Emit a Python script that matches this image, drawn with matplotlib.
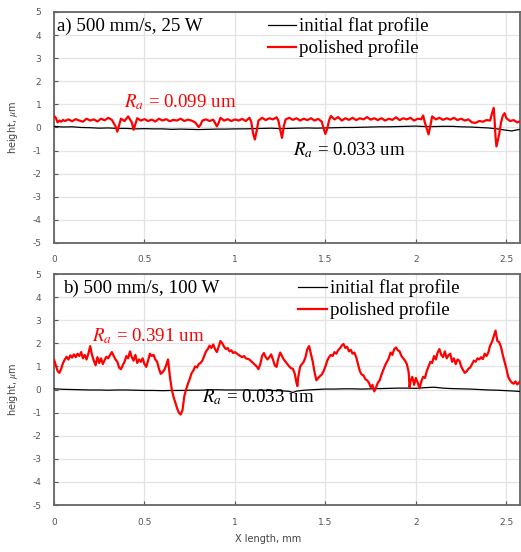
import numpy as np
import matplotlib
matplotlib.use("Agg")
import matplotlib.pyplot as plt

plt.rcParams['mathtext.fontset'] = 'stix'
plt.rcParams['axes.unicode_minus'] = False

# ---- panel a: 500 mm/s, 25 W ----
red_a = [
    (0.00, 0.50), (0.01, 0.42), (0.02, 0.22), (0.03, 0.30), (0.04, 0.25), (0.05, 0.33),
    (0.06, 0.28), (0.08, 0.35), (0.10, 0.27), (0.12, 0.36), (0.14, 0.30), (0.16, 0.25),
    (0.18, 0.38), (0.20, 0.30), (0.22, 0.35), (0.24, 0.26), (0.26, 0.38), (0.28, 0.31),
    (0.30, 0.42), (0.32, 0.33), (0.34, 0.05), (0.35, -0.18), (0.36, 0.10), (0.37, 0.38),
    (0.39, 0.28), (0.41, 0.48), (0.43, 0.22), (0.44, -0.10), (0.45, 0.15), (0.46, 0.40),
    (0.48, 0.30), (0.50, 0.36), (0.52, 0.28), (0.54, 0.34), (0.56, 0.26), (0.58, 0.38),
    (0.60, 0.30), (0.62, 0.36), (0.64, 0.27), (0.66, 0.33), (0.68, 0.30), (0.70, 0.38),
    (0.72, 0.28), (0.74, 0.34), (0.76, 0.30), (0.78, 0.22), (0.80, 0.02), (0.81, 0.12),
    (0.82, 0.30), (0.84, 0.35), (0.86, 0.28), (0.88, 0.34), (0.90, 0.05), (0.91, 0.20),
    (0.92, 0.42), (0.94, 0.30), (0.96, 0.36), (0.98, 0.28), (1.00, 0.35), (1.02, 0.30),
    (1.04, 0.37), (1.06, 0.28), (1.08, 0.42), (1.09, 0.25), (1.10, -0.25), (1.11, -0.52),
    (1.12, -0.15), (1.13, 0.30), (1.15, 0.42), (1.17, 0.32), (1.19, 0.40), (1.21, 0.35),
    (1.23, 0.44), (1.24, 0.30), (1.25, -0.10), (1.26, -0.45), (1.27, 0.05), (1.28, 0.35),
    (1.30, 0.42), (1.32, 0.33), (1.34, 0.40), (1.36, 0.30), (1.38, 0.38), (1.40, 0.32),
    (1.42, 0.40), (1.44, 0.30), (1.46, 0.37), (1.48, 0.25), (1.49, -0.05), (1.50, -0.28),
    (1.51, -0.05), (1.52, 0.30), (1.53, 0.50), (1.55, 0.35), (1.57, 0.45), (1.59, 0.30),
    (1.61, 0.40), (1.63, 0.33), (1.65, 0.42), (1.67, 0.32), (1.69, 0.40), (1.71, 0.35),
    (1.73, 0.45), (1.75, 0.34), (1.77, 0.40), (1.79, 0.32), (1.81, 0.40), (1.83, 0.30),
    (1.85, 0.38), (1.87, 0.33), (1.89, 0.44), (1.91, 0.32), (1.93, 0.40), (1.95, 0.35),
    (1.97, 0.42), (1.99, 0.30), (2.01, 0.38), (2.03, 0.36), (2.04, 0.52), (2.05, 0.20),
    (2.06, -0.05), (2.07, -0.30), (2.08, 0.10), (2.09, 0.48), (2.11, 0.35), (2.13, 0.42),
    (2.15, 0.33), (2.17, 0.40), (2.19, 0.34), (2.21, 0.42), (2.23, 0.32), (2.25, 0.38),
    (2.27, 0.30), (2.29, 0.35), (2.31, 0.22), (2.33, 0.20), (2.35, 0.28), (2.37, 0.25),
    (2.39, 0.32), (2.41, 0.30), (2.42, 0.60), (2.43, 0.85), (2.435, 0.30), (2.44, -0.40),
    (2.445, -0.82), (2.46, -0.30), (2.47, 0.20), (2.48, 0.50), (2.49, 0.62), (2.50, 0.40),
    (2.52, 0.28), (2.54, 0.32), (2.56, 0.22), (2.58, 0.28),
]
black_a = [
    (0.00, 0.05), (0.05, 0.02), (0.10, 0.03), (0.15, 0.00), (0.20, -0.01), (0.25, -0.03),
    (0.30, -0.02), (0.35, -0.04), (0.40, -0.04), (0.45, -0.06), (0.50, -0.05), (0.55, -0.06),
    (0.60, -0.06), (0.65, -0.08), (0.70, -0.07), (0.75, -0.08), (0.80, -0.09), (0.85, -0.08),
    (0.90, -0.07), (0.95, -0.07), (1.00, -0.06), (1.05, -0.06), (1.10, -0.05), (1.15, -0.04),
    (1.20, -0.03), (1.25, -0.05), (1.30, -0.04), (1.35, -0.03), (1.40, -0.02), (1.45, -0.03),
    (1.50, -0.02), (1.55, -0.01), (1.60, 0.00), (1.65, 0.00), (1.70, 0.01), (1.75, 0.02),
    (1.80, 0.03), (1.85, 0.03), (1.90, 0.04), (1.95, 0.05), (2.00, 0.06), (2.05, 0.04),
    (2.10, 0.04), (2.15, 0.05), (2.20, 0.05), (2.25, 0.03), (2.30, 0.02), (2.35, 0.00),
    (2.40, -0.02), (2.45, -0.06), (2.50, -0.12), (2.53, -0.15), (2.56, -0.10), (2.58, -0.08),
]

# ---- panel b: 500 mm/s, 100 W ----
red_b = [
    (0.00, 1.30), (0.01, 1.05), (0.02, 0.80), (0.03, 0.72), (0.04, 0.90), (0.05, 1.15),
    (0.06, 1.30), (0.07, 1.42), (0.08, 1.30), (0.09, 1.48), (0.10, 1.38), (0.11, 1.52),
    (0.12, 1.40), (0.13, 1.55), (0.14, 1.45), (0.15, 1.62), (0.16, 1.35), (0.17, 1.50),
    (0.18, 1.30), (0.19, 1.55), (0.20, 1.88), (0.21, 1.50), (0.22, 1.25), (0.23, 1.05),
    (0.24, 1.40), (0.25, 1.15), (0.26, 1.35), (0.27, 1.10), (0.28, 1.28), (0.29, 1.42),
    (0.30, 1.35), (0.31, 1.50), (0.32, 1.62), (0.33, 1.45), (0.34, 1.30), (0.35, 1.20),
    (0.36, 0.95), (0.37, 0.88), (0.38, 1.05), (0.39, 1.20), (0.40, 1.45), (0.41, 1.35),
    (0.42, 1.65), (0.43, 1.40), (0.44, 1.25), (0.45, 1.50), (0.46, 1.15), (0.47, 1.30),
    (0.48, 1.20), (0.49, 1.35), (0.50, 1.10), (0.51, 0.98), (0.52, 1.25), (0.53, 1.55),
    (0.54, 1.45), (0.55, 1.50), (0.56, 1.30), (0.57, 1.20), (0.58, 0.90), (0.59, 0.68),
    (0.60, 0.75), (0.61, 0.85), (0.62, 1.05), (0.63, 1.30), (0.64, 0.60), (0.65, 0.05),
    (0.66, -0.30), (0.67, -0.55), (0.68, -0.80), (0.69, -1.00), (0.70, -1.08), (0.71, -0.90),
    (0.72, -0.30), (0.73, 0.00), (0.74, 0.25), (0.75, 0.45), (0.76, 0.70), (0.77, 0.82),
    (0.78, 1.00), (0.79, 0.95), (0.80, 1.10), (0.81, 1.15), (0.82, 1.25), (0.83, 1.45),
    (0.84, 1.65), (0.85, 1.75), (0.86, 1.90), (0.87, 1.80), (0.88, 1.95), (0.89, 1.75),
    (0.90, 1.62), (0.91, 1.85), (0.92, 2.10), (0.93, 2.00), (0.94, 1.85), (0.95, 1.75),
    (0.96, 1.80), (0.97, 1.65), (0.98, 1.70), (0.99, 1.58), (1.00, 1.62), (1.02, 1.50),
    (1.04, 1.40), (1.05, 1.45), (1.06, 1.35), (1.08, 1.30), (1.10, 1.15), (1.12, 1.00),
    (1.13, 0.88), (1.14, 1.10), (1.15, 1.45), (1.16, 1.58), (1.17, 1.40), (1.18, 1.30),
    (1.19, 1.40), (1.20, 1.52), (1.21, 1.30), (1.22, 1.05), (1.23, 0.98), (1.24, 1.35),
    (1.25, 1.60), (1.26, 1.45), (1.27, 1.30), (1.28, 1.20), (1.29, 1.10), (1.30, 1.00),
    (1.31, 0.92), (1.32, 0.90), (1.33, 0.70), (1.34, 0.30), (1.345, 0.15), (1.35, 0.55),
    (1.36, 0.98), (1.37, 1.10), (1.38, 1.20), (1.39, 1.40), (1.40, 1.75), (1.41, 1.88),
    (1.42, 1.55), (1.43, 1.20), (1.44, 0.75), (1.45, 0.40), (1.46, 0.50), (1.47, 0.58),
    (1.48, 0.65), (1.49, 0.80), (1.50, 1.00), (1.51, 1.25), (1.52, 1.40), (1.53, 1.50),
    (1.54, 1.45), (1.55, 1.62), (1.56, 1.55), (1.57, 1.70), (1.58, 1.78), (1.59, 1.90),
    (1.60, 1.97), (1.61, 1.80), (1.62, 1.85), (1.63, 1.65), (1.64, 1.72), (1.65, 1.55),
    (1.66, 1.60), (1.67, 1.40), (1.68, 1.10), (1.69, 0.80), (1.70, 0.65), (1.71, 0.62),
    (1.72, 0.45), (1.73, 0.40), (1.74, 0.30), (1.75, 0.10), (1.76, 0.20), (1.77, -0.08),
    (1.78, 0.10), (1.79, 0.30), (1.80, 0.40), (1.81, 0.65), (1.82, 0.85), (1.83, 1.05),
    (1.84, 1.20), (1.85, 1.35), (1.86, 1.60), (1.87, 1.50), (1.88, 1.75), (1.89, 1.82),
    (1.90, 1.70), (1.91, 1.65), (1.92, 1.45), (1.93, 1.35), (1.94, 1.25), (1.95, 1.10),
    (1.96, 0.75), (1.965, 0.10), (1.97, 0.35), (1.98, 0.55), (1.99, 0.20), (2.00, 0.50),
    (2.01, 0.30), (2.02, 0.05), (2.03, 0.35), (2.04, 0.55), (2.05, 0.50), (2.06, 0.80),
    (2.07, 1.00), (2.08, 1.20), (2.09, 1.15), (2.10, 1.45), (2.11, 1.30), (2.12, 1.60),
    (2.13, 1.75), (2.14, 1.50), (2.15, 1.40), (2.16, 1.65), (2.17, 1.35), (2.18, 1.48),
    (2.19, 1.55), (2.20, 1.20), (2.21, 1.35), (2.22, 1.10), (2.23, 1.30), (2.24, 1.25),
    (2.25, 1.00), (2.26, 0.85), (2.27, 0.72), (2.28, 0.78), (2.29, 0.90), (2.30, 0.95),
    (2.31, 1.10), (2.32, 1.25), (2.33, 1.20), (2.34, 1.35), (2.35, 1.30), (2.36, 1.40),
    (2.37, 1.32), (2.38, 1.55), (2.39, 1.45), (2.40, 1.60), (2.41, 1.90), (2.42, 2.05),
    (2.43, 2.30), (2.44, 2.55), (2.45, 2.10), (2.46, 2.05), (2.47, 1.85), (2.48, 1.50),
    (2.49, 1.20), (2.50, 0.90), (2.51, 0.55), (2.52, 0.40), (2.53, 0.30), (2.54, 0.25),
    (2.55, 0.35), (2.56, 0.22), (2.57, 0.30), (2.58, 0.40),
]
black_b = [
    (0.00, 0.03), (0.05, 0.01), (0.10, 0.00), (0.15, -0.01), (0.20, -0.02), (0.25, -0.02),
    (0.30, -0.03), (0.35, -0.02), (0.40, -0.02), (0.45, -0.03), (0.50, -0.04), (0.55, -0.04),
    (0.60, -0.05), (0.65, -0.04), (0.70, -0.04), (0.75, -0.03), (0.80, -0.03), (0.85, -0.02),
    (0.90, -0.01), (0.95, -0.02), (1.00, -0.02), (1.05, -0.02), (1.10, -0.03), (1.15, -0.03),
    (1.20, -0.04), (1.25, -0.05), (1.30, -0.08), (1.32, -0.13), (1.34, -0.07), (1.37, -0.04),
    (1.40, -0.02), (1.45, 0.00), (1.50, 0.02), (1.55, 0.02), (1.60, 0.03), (1.65, 0.03),
    (1.70, 0.02), (1.75, 0.03), (1.80, 0.04), (1.85, 0.05), (1.90, 0.06), (1.95, 0.06),
    (2.00, 0.05), (2.05, 0.08), (2.10, 0.10), (2.15, 0.06), (2.20, 0.04), (2.25, 0.03),
    (2.30, 0.02), (2.35, 0.00), (2.40, -0.02), (2.45, -0.03), (2.50, -0.05), (2.55, -0.07),
    (2.58, -0.09),
]

titles = ["a) 500 mm/s, 25 W", "b) 500 mm/s, 100 W"]
ra_polished = ["0.099", "0.391"]
ra_initial = ["0.033", "0.033"]
x_ticks = [0, 0.5, 1, 1.5, 2, 2.5]
x_tick_labels = ["0", "0.5", "1", "1.5", "2", "2.5"]
y_ticks = [-5, -4, -3, -2, -1, 0, 1, 2, 3, 4, 5]

# text positions (data coords) for the Ra notes, per panel
ra_red_pos = [(0.385, 0.89), (0.21, 2.10)]
ra_black_pos = [(1.32, -1.19), (0.82, -0.55)]
title_x = [0.006, 0.019]
legend_x = [0.455, 0.52]

SERIF = 'Liberation Serif'
TICK_COLOR = '#555555'

fig = plt.figure(figsize=(5.21, 5.52), dpi=100)
ax_a = fig.add_axes([0.1036, 0.5598, 0.8944, 0.4185])
ax_b = fig.add_axes([0.1036, 0.0851, 0.8944, 0.4185])

panels = [(ax_a, red_a, black_a), (ax_b, red_b, black_b)]
for i, (ax, red, black) in enumerate(panels):
    bx, by = zip(*black)
    rx, ry = zip(*red)
    ax.plot(bx, by, color='black', lw=0.9, label='initial flat profile', zorder=3)
    ax.plot(rx, ry, color='#ff0000', lw=1.6, label='polished profile', zorder=4)

    ax.set_xlim(0, 2.575)
    ax.set_ylim(-5, 5)
    ax.set_xticks(x_ticks)
    ax.set_xticklabels(x_tick_labels)
    ax.set_yticks(y_ticks)
    ax.grid(True, color='#e3e3e3', lw=0.9)
    ax.set_axisbelow(True)
    ax.tick_params(direction='in', length=3, width=0.8, colors=TICK_COLOR,
                   labelsize=6.5, pad=9, top=False, right=False)
    for s in ax.spines.values():
        s.set_color('#666666')
        s.set_linewidth(1.3)

    ax.set_ylabel(r'height, $\mu$m', fontsize=7, color='#444444')
    ax.yaxis.set_label_coords(-0.073, 0.5)

    ax.text(title_x[i], 0.975, titles[i], transform=ax.transAxes, ha='left', va='top',
            fontsize=13.7, family=SERIF)

    ax.legend(loc='upper left', bbox_to_anchor=(legend_x[i], 0.985), frameon=False,
              prop={'family': SERIF, 'size': 13.7}, handlelength=1.5,
              handletextpad=0.15, borderpad=0.1, borderaxespad=0.0, labelspacing=0.22)

    xr, yr = ra_red_pos[i]
    ax.text(xr, yr, r'$R_a$' + ' = ' + ra_polished[i] + ' um', color='#ff0000',
            fontsize=13.6, family=SERIF, va='baseline', ha='left')
    xk, yk = ra_black_pos[i]
    ax.text(xk, yk, r'$R_a$' + ' = ' + ra_initial[i] + ' um', color='black',
            fontsize=13.6, family=SERIF, va='baseline', ha='left')

ax_b.set_xlabel('X length, mm', fontsize=7, color='#444444')
ax_b.xaxis.set_label_coords(0.46, -0.125)

fig.savefig('out.png', dpi=100)
